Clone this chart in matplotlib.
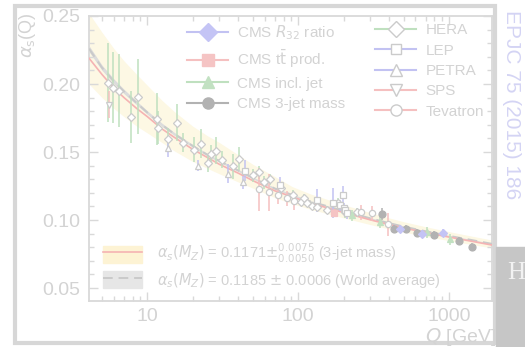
import numpy as np
import matplotlib
matplotlib.use('Agg')
import matplotlib.pyplot as plt
from matplotlib.lines import Line2D
from matplotlib.patches import Patch, Rectangle
from matplotlib.ticker import MultipleLocator, FuncFormatter, NullFormatter

plt.rcParams['font.family'] = ['Liberation Sans', 'DejaVu Sans']
plt.rcParams['mathtext.fontset'] = 'dejavusans'

# running coupling: 3-jet mass fit with its band, and the world average
q_curve = [4.1, 5, 6, 7, 8.5, 10, 12.5, 15, 20, 25, 30, 40, 50, 70, 91.2,
           120, 150, 200, 300, 400, 500, 700, 1000, 1400, 2000]
as_fit = [0.219, 0.207, 0.197, 0.190, 0.182, 0.176, 0.167, 0.161, 0.152, 0.146,
          0.141, 0.1345, 0.129, 0.1215, 0.1171, 0.1125, 0.1095, 0.1055, 0.1002,
          0.0967, 0.0942, 0.0908, 0.0875, 0.0845, 0.0813]
as_fit_up = [0.252, 0.238, 0.226, 0.217, 0.207, 0.199, 0.188, 0.180, 0.169, 0.162,
             0.157, 0.148, 0.141, 0.132, 0.1246, 0.1193, 0.1158, 0.1113, 0.1055,
             0.1016, 0.0988, 0.0951, 0.0915, 0.0883, 0.0850]
as_fit_dn = [0.200, 0.190, 0.182, 0.176, 0.169, 0.164, 0.157, 0.151, 0.143, 0.138,
             0.134, 0.128, 0.1235, 0.1165, 0.1121, 0.1080, 0.1052, 0.1016, 0.0967,
             0.0935, 0.0912, 0.0880, 0.0849, 0.0821, 0.0792]
as_wa = [0.226, 0.212, 0.202, 0.1945, 0.186, 0.179, 0.170, 0.1635, 0.1545, 0.148,
         0.1435, 0.1365, 0.1310, 0.1232, 0.1185, 0.1138, 0.1107, 0.1067, 0.1013,
         0.0978, 0.0952, 0.0918, 0.0884, 0.0854, 0.0822]
as_wa_err = [0.0022, 0.0019, 0.0017, 0.0016, 0.0014, 0.0013, 0.0012, 0.0011, 0.0010,
             0.0009, 0.0009, 0.0008, 0.0007, 0.0007, 0.0006, 0.0006, 0.0005, 0.0005,
             0.0005, 0.0004, 0.0004, 0.0004, 0.0004, 0.0004, 0.0003]

# measurements
hera_q = [5.5, 5.95, 6.45, 7.8, 8.7, 11.5, 11.7, 13.8, 15.6, 17.3, 20.5, 22.8, 25.4,
          26.5, 28.6, 31.4, 37.1, 40.6, 50.3, 55.2, 59.6, 65.3, 77.1, 92.6, 104.7,
          109.6, 114.8, 123.9, 133.6, 155.6, 184.1, 204.8, 246]
hera_as = [0.2009, 0.1973, 0.1951, 0.1760, 0.1907, 0.1745, 0.1679, 0.1599, 0.1716,
           0.1570, 0.1518, 0.1562, 0.1416, 0.1489, 0.1511, 0.1445, 0.1394, 0.1452,
           0.1328, 0.1350, 0.1277, 0.1299, 0.1233, 0.1181, 0.1130, 0.1159, 0.1123,
           0.1101, 0.1093, 0.1071, 0.1123, 0.1057, 0.1057]
hera_err = [0.029, 0.026, 0.027, 0.019, 0.0275, 0.019, 0.012, 0.008, 0.0135, 0.007,
            0.009, 0.0105, 0.006, 0.006, 0.010, 0.006, 0.009, 0.0085, 0.005, 0.005,
            0.005, 0.004, 0.004, 0.004, 0.003, 0.003, 0.003, 0.003, 0.003, 0.003,
            0.004, 0.004, 0.003]

lep_q = [44.6, 76.0, 133.6, 170.6, 188, 198.6, 200, 206, 211]
lep_as = [0.1364, 0.1255, 0.1145, 0.1123, 0.1108, 0.1181, 0.1086, 0.1071, 0.1049]
lep_err = [0.008, 0.006, 0.0085, 0.011, 0.004, 0.007, 0.004, 0.004, 0.004]

petra_q = [13.8, 21.8, 34.4, 43.2]
petra_as = [0.1533, 0.1401, 0.1342, 0.1277]
petra_err = [0.007, 0.004, 0.007, 0.005]

sps_q = [5.6]
sps_as = [0.1848]
sps_err = [0.010]

tev_q = [55.2, 64.3, 73.8, 84.5, 94.1, 261, 309, 394]
tev_as = [0.1225, 0.1203, 0.1181, 0.1159, 0.1137, 0.1057, 0.1049, 0.0969]
tev_err = [0.016, 0.0135, 0.006, 0.0055, 0.006, 0.0055, 0.0055, 0.0085]

ttbar_q = [173.0]
ttbar_as = [0.1051]
ttbar_err = [0.003]

incl_q = [228, 349, 715, 1016]
incl_as = [0.1035, 0.0984, 0.0910, 0.0859]
incl_err = [0.004, 0.004, 0.004, 0.004]

mass3j_q = [360, 432, 519, 614, 796, 1165, 1420]
mass3j_as = [0.1042, 0.0932, 0.0932, 0.0903, 0.0888, 0.0844, 0.0800]
mass3j_err = [0.0045, 0.003, 0.003, 0.003, 0.003, 0.003, 0.003]

r32_q = [473, 662, 912]
r32_as = [0.0932, 0.0896, 0.0903]
r32_err = [0.003, 0.003, 0.003]

# washed-out palette
txt = '#d3d3d3'
axc = '#d9d9d9'
green = '#bfe0bf'
blue = '#c2c2f2'
red = '#f5c0c0'
dark = '#b2b2b2'
medge = '#cbcbcb'

fig = plt.figure(figsize=(5.25, 3.47), dpi=100)
ax = fig.add_axes([89/525, 46/347, 403/525, 285/347])

ax.fill_between(q_curve, as_fit_dn, as_fit_up, color='#fdf8e4', lw=0, zorder=1)
wa_lo = np.array(as_wa) - np.array(as_wa_err)
wa_hi = np.array(as_wa) + np.array(as_wa_err)
ax.fill_between(q_curve, wa_lo, wa_hi, color='#dcdcdc', lw=0, zorder=2)
ax.plot(q_curve, as_wa, color='#cacaca', lw=1.4, ls=(0, (5, 3)), zorder=3)
ax.plot(q_curve, as_fit, color='#f5b3b3', lw=1.2, zorder=3)

def points(q, a, e, ecol, marker, ms, fc=None, ec=None):
    ax.errorbar(q, a, yerr=e, fmt=marker, ms=ms, color=ecol, ecolor=ecol,
                elinewidth=1.1, capsize=0, mfc=fc or 'white', mec=ec or medge,
                mew=0.9, zorder=4)

points(hera_q, hera_as, hera_err, green, 'D', 4.2)
points(lep_q, lep_as, lep_err, blue, 's', 4.2)
points(petra_q, petra_as, petra_err, blue, '^', 4.5)
points(sps_q, sps_as, sps_err, red, 'v', 4.5)
points(tev_q, tev_as, tev_err, red, 'o', 4.5)
points(ttbar_q, ttbar_as, ttbar_err, red, 's', 4.5, '#f5c4c4', '#f5c4c4')
points(incl_q, incl_as, incl_err, green, '^', 5, '#c2e1c2', '#c2e1c2')
points(mass3j_q, mass3j_as, mass3j_err, dark, 'o', 5, dark, dark)
points(r32_q, r32_as, r32_err, blue, 'D', 4.5, '#c4c4f5', '#c4c4f5')

ax.set_xscale('log')
ax.set_xlim(4.1, 1930)
ax.set_ylim(0.0405, 0.25)
ax.yaxis.set_major_locator(MultipleLocator(0.05))
ax.yaxis.set_minor_locator(MultipleLocator(0.01))
ax.yaxis.set_major_formatter(FuncFormatter(lambda v, p: f'{v:.2f}'))
ax.xaxis.set_major_formatter(FuncFormatter(lambda v, p: f'{v:g}'))
ax.xaxis.set_minor_formatter(NullFormatter())
ax.tick_params(which='both', direction='in', top=True, right=True, color=axc,
               labelcolor=txt, labelsize=14, width=1)
ax.tick_params(which='major', length=6.5)
ax.tick_params(which='minor', length=3.5)
ax.tick_params(axis='y', pad=6)
ax.tick_params(axis='x', pad=5)
for s in ax.spines.values():
    s.set_color(axc)
    s.set_linewidth(1.3)

# legends
h1 = [Line2D([], [], color=blue, marker='D', ms=9, mfc='#c4c4f5', mec='#c4c4f5'),
      Line2D([], [], color=red, marker='s', ms=8, mfc='#f5c4c4', mec='#f5c4c4'),
      Line2D([], [], color=green, marker='^', ms=8, mfc='#c2e1c2', mec='#c2e1c2'),
      Line2D([], [], color=dark, marker='o', ms=8, mfc=dark, mec=dark)]
l1 = [r'CMS $R_{32}$ ratio', r'CMS t$\bar{\rm t}$ prod.', 'CMS incl. jet',
      'CMS 3-jet mass']
h2 = [Line2D([], [], color=green, marker='D', ms=8, mfc='white', mec=medge),
      Line2D([], [], color=blue, marker='s', ms=7, mfc='white', mec=medge),
      Line2D([], [], color=blue, marker='^', ms=8, mfc='white', mec=medge),
      Line2D([], [], color=red, marker='v', ms=8, mfc='white', mec=medge),
      Line2D([], [], color=red, marker='o', ms=8, mfc='white', mec=medge)]
l2 = ['HERA', 'LEP', 'PETRA', 'SPS', 'Tevatron']
kw = dict(frameon=False, fontsize=11, labelcolor=txt, borderpad=0,
          borderaxespad=0, handlelength=2.7, handletextpad=0.6,
          labelspacing=0.42, loc='upper left')
leg1 = ax.legend(h1, l1, bbox_to_anchor=(0.243, 0.975), **kw)
ax.add_artist(leg1)
leg2 = ax.legend(h2, l2, bbox_to_anchor=(0.710, 0.975), **kw)
ax.add_artist(leg2)

h3 = [(Patch(color='#fdf3d4'), Line2D([], [], color='#f5b3b3', lw=1.2)),
      (Patch(color='#e6e6e6'), Line2D([], [], color='#cacaca', lw=1.4, ls=(0, (5, 3))))]
l3 = [r'$\alpha_s(M_Z)$ = 0.1171$\pm^{0.0075}_{0.0050}$ (3-jet mass)',
      r'$\alpha_s(M_Z)$ = 0.1185 $\pm$ 0.0006 (World average)']
ax.legend(h3, l3, frameon=False, fontsize=10.5, labelcolor=txt, borderpad=0,
          borderaxespad=0, handlelength=2.7, handleheight=1.4,
          handletextpad=1.0, labelspacing=0.35, loc='lower left',
          bbox_to_anchor=(0.035, 0.04))

fig.text(27/525, 1 - 12/347, r'$\alpha_\mathrm{s}$(Q)', rotation=90, ha='center',
         va='top', fontsize=13, color=txt)
fig.text(425/525, 1 - 337/347, r'$Q$ [GeV]', ha='left', va='center', fontsize=14,
         color=txt, zorder=1)

# outer frame, side reference and the corner box
fig.add_artist(Rectangle((15/525, 4/347), 480/525, 337.5/347, fill=False,
                         lw=3, ec='#d7d7d7', transform=fig.transFigure))
fig.text(511/525, 1 - 10/347, 'EPJC 75 (2015) 186', rotation=-90, ha='center',
         va='top', fontsize=15, color='#d4d4f4')
box = Rectangle((496/525, 0), 29/525, 100/347, color='#c6c6c6',
                transform=fig.transFigure, zorder=5)
fig.add_artist(box)
fig.text(507/525, 1 - 273/347, 'H', family='Liberation Serif', fontsize=18,
         color='#f2f2f2', ha='left', va='center', zorder=6)

fig.savefig('out.png', dpi=100)
